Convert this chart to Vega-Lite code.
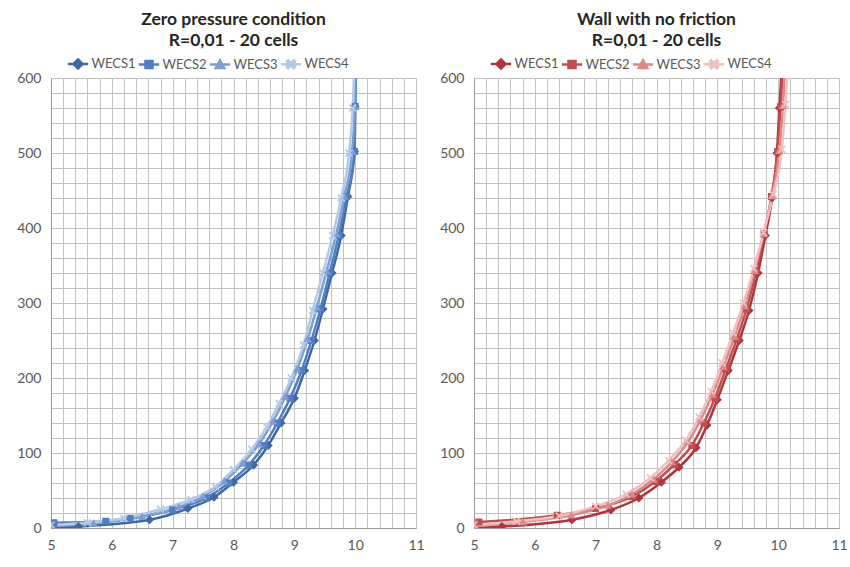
{
  "$schema": "https://vega.github.io/schema/vega-lite/v6.json",
  "background": "white",
  "padding": {"left": 16, "top": 10, "right": 0, "bottom": 0},
  "config": {
    "view": {"stroke": null},
    "font": "Lato",
    "axis": {
      "gridColor": "#c2c2c2",
      "gridWidth": 1,
      "domainColor": "#9a9a9a",
      "labelColor": "#595959",
      "labelFont": "Lato",
      "labelFontSize": 14,
      "ticks": false,
      "title": null,
      "labelOverlap": false,
      "labelFlush": false,
      "format": "d"
    },
    "title": {
      "font": "Lato",
      "fontSize": 17.5,
      "fontWeight": "bold",
      "color": "#262626",
      "lineHeight": 21,
      "offset": 8
    },
    "legend": {
      "orient": "none",
      "legendX": 14,
      "legendY": -21,
      "direction": "horizontal",
      "title": null,
      "labelFont": "Lato",
      "labelFontSize": 13,
      "labelColor": "#595959",
      "symbolSize": 49,
      "symbolOffset": 6.5,
      "labelOffset": 7,
      "columnPadding": -4
    }
  },
  "datasets": {
    "zero": [
      {"s": "WECS1", "x": 5.0, "y": 0}, {"s": "WECS1", "x": 5.45, "y": 2}, {"s": "WECS1", "x": 6.62, "y": 11}, {"s": "WECS1", "x": 7.25, "y": 26}, {"s": "WECS1", "x": 7.68, "y": 41}, {"s": "WECS1", "x": 8.0, "y": 61}, {"s": "WECS1", "x": 8.33, "y": 84}, {"s": "WECS1", "x": 8.57, "y": 110}, {"s": "WECS1", "x": 8.78, "y": 140}, {"s": "WECS1", "x": 9.0, "y": 173}, {"s": "WECS1", "x": 9.17, "y": 210}, {"s": "WECS1", "x": 9.33, "y": 250}, {"s": "WECS1", "x": 9.47, "y": 292}, {"s": "WECS1", "x": 9.62, "y": 340}, {"s": "WECS1", "x": 9.77, "y": 390}, {"s": "WECS1", "x": 9.88, "y": 442}, {"s": "WECS1", "x": 9.99, "y": 502}, {"s": "WECS1", "x": 10.0, "y": 562}, {"s": "WECS1", "x": 10.03, "y": 640},
      {"s": "WECS2", "x": 5.05, "y": 7}, {"s": "WECS2", "x": 5.9, "y": 9}, {"s": "WECS2", "x": 6.3, "y": 13}, {"s": "WECS2", "x": 7.0, "y": 24}, {"s": "WECS2", "x": 7.55, "y": 40}, {"s": "WECS2", "x": 7.92, "y": 60}, {"s": "WECS2", "x": 8.25, "y": 84}, {"s": "WECS2", "x": 8.5, "y": 110}, {"s": "WECS2", "x": 8.72, "y": 140}, {"s": "WECS2", "x": 8.93, "y": 173}, {"s": "WECS2", "x": 9.12, "y": 210}, {"s": "WECS2", "x": 9.28, "y": 250}, {"s": "WECS2", "x": 9.43, "y": 292}, {"s": "WECS2", "x": 9.58, "y": 340}, {"s": "WECS2", "x": 9.73, "y": 390}, {"s": "WECS2", "x": 9.86, "y": 442}, {"s": "WECS2", "x": 9.99, "y": 502}, {"s": "WECS2", "x": 10.0, "y": 562}, {"s": "WECS2", "x": 10.02, "y": 640},
      {"s": "WECS3", "x": 5.0, "y": 3}, {"s": "WECS3", "x": 5.7, "y": 6}, {"s": "WECS3", "x": 6.5, "y": 15}, {"s": "WECS3", "x": 7.1, "y": 28}, {"s": "WECS3", "x": 7.5, "y": 42}, {"s": "WECS3", "x": 7.85, "y": 62}, {"s": "WECS3", "x": 8.15, "y": 86}, {"s": "WECS3", "x": 8.42, "y": 112}, {"s": "WECS3", "x": 8.65, "y": 142}, {"s": "WECS3", "x": 8.85, "y": 175}, {"s": "WECS3", "x": 9.05, "y": 212}, {"s": "WECS3", "x": 9.22, "y": 252}, {"s": "WECS3", "x": 9.37, "y": 294}, {"s": "WECS3", "x": 9.53, "y": 342}, {"s": "WECS3", "x": 9.69, "y": 392}, {"s": "WECS3", "x": 9.82, "y": 442}, {"s": "WECS3", "x": 9.95, "y": 502}, {"s": "WECS3", "x": 9.99, "y": 562}, {"s": "WECS3", "x": 10.01, "y": 640},
      {"s": "WECS4", "x": 5.0, "y": 4}, {"s": "WECS4", "x": 5.6, "y": 7}, {"s": "WECS4", "x": 6.2, "y": 13}, {"s": "WECS4", "x": 6.8, "y": 25}, {"s": "WECS4", "x": 7.3, "y": 38}, {"s": "WECS4", "x": 7.7, "y": 55}, {"s": "WECS4", "x": 8.0, "y": 78}, {"s": "WECS4", "x": 8.3, "y": 105}, {"s": "WECS4", "x": 8.55, "y": 135}, {"s": "WECS4", "x": 8.75, "y": 166}, {"s": "WECS4", "x": 8.95, "y": 200}, {"s": "WECS4", "x": 9.15, "y": 244}, {"s": "WECS4", "x": 9.3, "y": 290}, {"s": "WECS4", "x": 9.47, "y": 340}, {"s": "WECS4", "x": 9.63, "y": 390}, {"s": "WECS4", "x": 9.77, "y": 440}, {"s": "WECS4", "x": 9.9, "y": 500}, {"s": "WECS4", "x": 9.96, "y": 560}, {"s": "WECS4", "x": 10.0, "y": 640}
    ],
    "wall": [
      {"s": "WECS1", "x": 5.0, "y": 0}, {"s": "WECS1", "x": 5.46, "y": 2}, {"s": "WECS1", "x": 6.61, "y": 11}, {"s": "WECS1", "x": 7.25, "y": 24}, {"s": "WECS1", "x": 7.71, "y": 40}, {"s": "WECS1", "x": 8.08, "y": 61}, {"s": "WECS1", "x": 8.37, "y": 81}, {"s": "WECS1", "x": 8.65, "y": 107}, {"s": "WECS1", "x": 8.83, "y": 137}, {"s": "WECS1", "x": 9.0, "y": 171}, {"s": "WECS1", "x": 9.18, "y": 210}, {"s": "WECS1", "x": 9.36, "y": 250}, {"s": "WECS1", "x": 9.52, "y": 290}, {"s": "WECS1", "x": 9.67, "y": 340}, {"s": "WECS1", "x": 9.79, "y": 390}, {"s": "WECS1", "x": 9.9, "y": 440}, {"s": "WECS1", "x": 9.98, "y": 500}, {"s": "WECS1", "x": 10.02, "y": 560}, {"s": "WECS1", "x": 10.08, "y": 640},
      {"s": "WECS2", "x": 5.08, "y": 8}, {"s": "WECS2", "x": 6.37, "y": 17}, {"s": "WECS2", "x": 7.0, "y": 26}, {"s": "WECS2", "x": 7.6, "y": 42}, {"s": "WECS2", "x": 7.98, "y": 62}, {"s": "WECS2", "x": 8.3, "y": 85}, {"s": "WECS2", "x": 8.58, "y": 110}, {"s": "WECS2", "x": 8.78, "y": 140}, {"s": "WECS2", "x": 8.96, "y": 173}, {"s": "WECS2", "x": 9.14, "y": 212}, {"s": "WECS2", "x": 9.32, "y": 252}, {"s": "WECS2", "x": 9.48, "y": 292}, {"s": "WECS2", "x": 9.64, "y": 342}, {"s": "WECS2", "x": 9.77, "y": 392}, {"s": "WECS2", "x": 9.89, "y": 442}, {"s": "WECS2", "x": 9.99, "y": 502}, {"s": "WECS2", "x": 10.04, "y": 562}, {"s": "WECS2", "x": 10.1, "y": 640},
      {"s": "WECS3", "x": 5.0, "y": 2}, {"s": "WECS3", "x": 5.8, "y": 8}, {"s": "WECS3", "x": 6.6, "y": 17}, {"s": "WECS3", "x": 7.2, "y": 30}, {"s": "WECS3", "x": 7.6, "y": 45}, {"s": "WECS3", "x": 7.95, "y": 65}, {"s": "WECS3", "x": 8.25, "y": 88}, {"s": "WECS3", "x": 8.52, "y": 115}, {"s": "WECS3", "x": 8.73, "y": 145}, {"s": "WECS3", "x": 8.92, "y": 178}, {"s": "WECS3", "x": 9.1, "y": 215}, {"s": "WECS3", "x": 9.28, "y": 255}, {"s": "WECS3", "x": 9.45, "y": 296}, {"s": "WECS3", "x": 9.61, "y": 343}, {"s": "WECS3", "x": 9.76, "y": 392}, {"s": "WECS3", "x": 9.9, "y": 443}, {"s": "WECS3", "x": 10.02, "y": 503}, {"s": "WECS3", "x": 10.08, "y": 563}, {"s": "WECS3", "x": 10.13, "y": 640},
      {"s": "WECS4", "x": 5.0, "y": 4}, {"s": "WECS4", "x": 5.7, "y": 9}, {"s": "WECS4", "x": 6.4, "y": 16}, {"s": "WECS4", "x": 7.0, "y": 29}, {"s": "WECS4", "x": 7.5, "y": 45}, {"s": "WECS4", "x": 7.9, "y": 67}, {"s": "WECS4", "x": 8.2, "y": 90}, {"s": "WECS4", "x": 8.48, "y": 117}, {"s": "WECS4", "x": 8.7, "y": 148}, {"s": "WECS4", "x": 8.9, "y": 182}, {"s": "WECS4", "x": 9.08, "y": 220}, {"s": "WECS4", "x": 9.26, "y": 260}, {"s": "WECS4", "x": 9.43, "y": 300}, {"s": "WECS4", "x": 9.6, "y": 346}, {"s": "WECS4", "x": 9.76, "y": 394}, {"s": "WECS4", "x": 9.92, "y": 445}, {"s": "WECS4", "x": 10.06, "y": 505}, {"s": "WECS4", "x": 10.12, "y": 565}, {"s": "WECS4", "x": 10.17, "y": 640}
    ]
  },
  "spacing": 14,
  "resolve": {"scale": {"color": "independent", "shape": "independent"}},
  "hconcat": [
    {
      "title": {"text": ["Zero pressure condition", "R=0,01 - 20 cells"]},
      "width": 365,
      "height": 450,
      "data": {"name": "zero"},
      "encoding": {
        "x": {"field": "x", "type": "quantitative", "scale": {"domain": [5, 11], "nice": false, "zero": false},
          "axis": {"values": [5, 5.2, 5.4, 5.6, 5.8, 6, 6.2, 6.4, 6.6, 6.8, 7, 7.2, 7.4, 7.6, 7.8, 8, 8.2, 8.4, 8.6, 8.8, 9, 9.2, 9.4, 9.6, 9.8, 10, 10.2, 10.4, 10.6, 10.8, 11], "labelExpr": "datum.value % 1 === 0 ? datum.label : ''", "labelPadding": 10}},
        "y": {"field": "y", "type": "quantitative", "scale": {"domain": [0, 600], "nice": false},
          "axis": {"values": [0, 20, 40, 60, 80, 100, 120, 140, 160, 180, 200, 220, 240, 260, 280, 300, 320, 340, 360, 380, 400, 420, 440, 460, 480, 500, 520, 540, 560, 580, 600], "labelExpr": "datum.value % 100 === 0 ? datum.label : ''", "labelPadding": 10}},
        "color": {"field": "s", "type": "nominal",
          "scale": {"domain": ["WECS1", "WECS2", "WECS3", "WECS4"], "range": ["#3c68aa", "#4f7fc0", "#7b9fd4", "#b4c9e8"]},
          "legend": {"encode": {"symbols": {"update": {
            "fill": {"signal": "datum.value === 'WECS1' ? '#3c68aa' : datum.value === 'WECS2' ? '#4f7fc0' : datum.value === 'WECS3' ? '#7b9fd4' : '#b4c9e8'"},
            "stroke": {"signal": "datum.value === 'WECS1' ? '#3c68aa' : datum.value === 'WECS2' ? '#4f7fc0' : datum.value === 'WECS3' ? '#7b9fd4' : '#b4c9e8'"},
            "strokeWidth": {"value": 2.5},
            "opacity": {"value": 1}
          }}}}
        }
      },
      "layer": [
        {"mark": {"type": "line", "interpolate": "monotone", "strokeWidth": 2.5, "clip": true}},
        {
          "mark": {"type": "point", "filled": true, "size": 49, "opacity": 1, "clip": true},
          "encoding": {
            "shape": {"field": "s", "type": "nominal",
              "scale": {"domain": ["WECS1", "WECS2", "WECS3", "WECS4"], "range": [
                "M-2.9,0L2.9,0M0,-1.3L1.3,0L0,1.3L-1.3,0Z",
                "M-2.9,0L2.9,0M-1,-1L1,-1L1,1L-1,1Z",
                "M-2.9,0L2.9,0M0,-1.2L1.2,0.95L-1.2,0.95Z",
                "M-2.9,0L2.9,0M0,-0.35L0.8,-1.15L1.15,-0.8L0.35,0L1.15,0.8L0.8,1.15L0,0.35L-0.8,1.15L-1.15,0.8L-0.35,0L-1.15,-0.8L-0.8,-1.15Z"
              ]},
              "legend": {"encode": {"symbols": {"update": {
                "fill": {"signal": "datum.value === 'WECS1' ? '#3c68aa' : datum.value === 'WECS2' ? '#4f7fc0' : datum.value === 'WECS3' ? '#7b9fd4' : '#b4c9e8'"},
                "stroke": {"signal": "datum.value === 'WECS1' ? '#3c68aa' : datum.value === 'WECS2' ? '#4f7fc0' : datum.value === 'WECS3' ? '#7b9fd4' : '#b4c9e8'"},
                "strokeWidth": {"value": 2.5},
                "opacity": {"value": 1}
              }}}}
            }
          }
        }
      ]
    },
    {
      "title": {"text": ["Wall with no friction", "R=0,01 - 20 cells"]},
      "width": 365,
      "height": 450,
      "data": {"name": "wall"},
      "encoding": {
        "x": {"field": "x", "type": "quantitative", "scale": {"domain": [5, 11], "nice": false, "zero": false},
          "axis": {"values": [5, 5.2, 5.4, 5.6, 5.8, 6, 6.2, 6.4, 6.6, 6.8, 7, 7.2, 7.4, 7.6, 7.8, 8, 8.2, 8.4, 8.6, 8.8, 9, 9.2, 9.4, 9.6, 9.8, 10, 10.2, 10.4, 10.6, 10.8, 11], "labelExpr": "datum.value % 1 === 0 ? datum.label : ''", "labelPadding": 10}},
        "y": {"field": "y", "type": "quantitative", "scale": {"domain": [0, 600], "nice": false},
          "axis": {"values": [0, 20, 40, 60, 80, 100, 120, 140, 160, 180, 200, 220, 240, 260, 280, 300, 320, 340, 360, 380, 400, 420, 440, 460, 480, 500, 520, 540, 560, 580, 600], "labelExpr": "datum.value % 100 === 0 ? datum.label : ''", "labelPadding": 10}},
        "color": {"field": "s", "type": "nominal",
          "scale": {"domain": ["WECS1", "WECS2", "WECS3", "WECS4"], "range": ["#b2343a", "#c0504d", "#dc8a88", "#efc0bf"]},
          "legend": {"encode": {"symbols": {"update": {
            "fill": {"signal": "datum.value === 'WECS1' ? '#b2343a' : datum.value === 'WECS2' ? '#c0504d' : datum.value === 'WECS3' ? '#dc8a88' : '#efc0bf'"},
            "stroke": {"signal": "datum.value === 'WECS1' ? '#b2343a' : datum.value === 'WECS2' ? '#c0504d' : datum.value === 'WECS3' ? '#dc8a88' : '#efc0bf'"},
            "strokeWidth": {"value": 2.5},
            "opacity": {"value": 1}
          }}}}
        }
      },
      "layer": [
        {"mark": {"type": "line", "interpolate": "monotone", "strokeWidth": 2.5, "clip": true}},
        {
          "mark": {"type": "point", "filled": true, "size": 49, "opacity": 1, "clip": true},
          "encoding": {
            "shape": {"field": "s", "type": "nominal",
              "scale": {"domain": ["WECS1", "WECS2", "WECS3", "WECS4"], "range": [
                "M-2.9,0L2.9,0M0,-1.3L1.3,0L0,1.3L-1.3,0Z",
                "M-2.9,0L2.9,0M-1,-1L1,-1L1,1L-1,1Z",
                "M-2.9,0L2.9,0M0,-1.2L1.2,0.95L-1.2,0.95Z",
                "M-2.9,0L2.9,0M0,-0.35L0.8,-1.15L1.15,-0.8L0.35,0L1.15,0.8L0.8,1.15L0,0.35L-0.8,1.15L-1.15,0.8L-0.35,0L-1.15,-0.8L-0.8,-1.15Z"
              ]},
              "legend": {"encode": {"symbols": {"update": {
                "fill": {"signal": "datum.value === 'WECS1' ? '#b2343a' : datum.value === 'WECS2' ? '#c0504d' : datum.value === 'WECS3' ? '#dc8a88' : '#efc0bf'"},
                "stroke": {"signal": "datum.value === 'WECS1' ? '#b2343a' : datum.value === 'WECS2' ? '#c0504d' : datum.value === 'WECS3' ? '#dc8a88' : '#efc0bf'"},
                "strokeWidth": {"value": 2.5},
                "opacity": {"value": 1}
              }}}}
            }
          }
        }
      ]
    }
  ]
}
